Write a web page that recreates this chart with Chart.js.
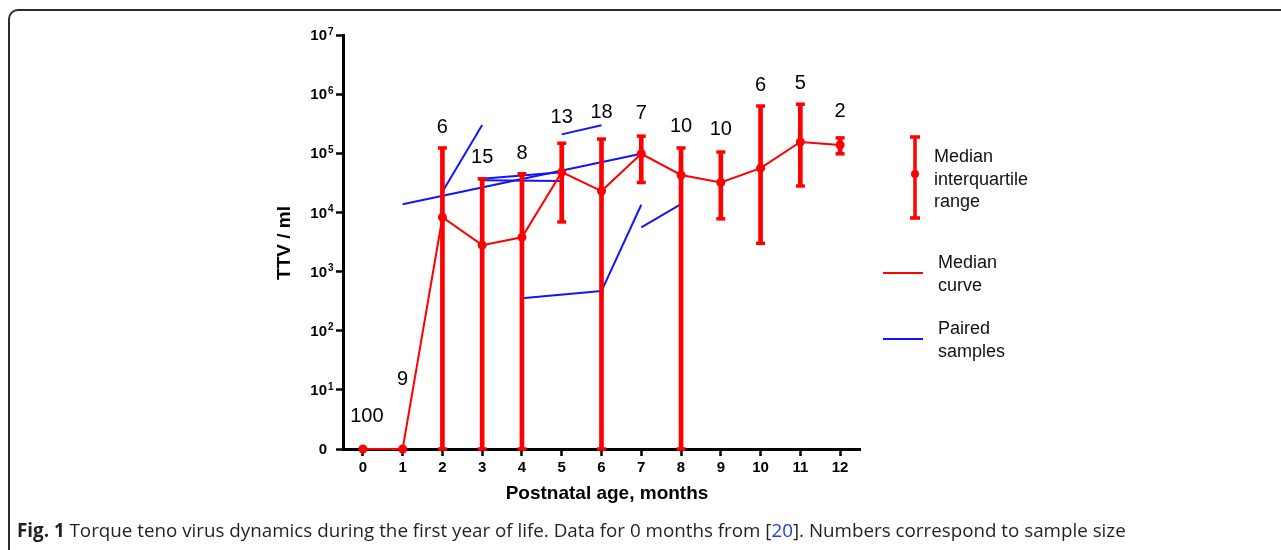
<!DOCTYPE html>
<html>
<head>
<meta charset="utf-8">
<script src="https://cdn.jsdelivr.net/npm/chart.js@4/dist/chart.umd.min.js"></script>
<style>
  html, body { margin: 0; padding: 0; background: #fff; }
  #wrap { position: relative; width: 1281px; height: 550px; overflow: hidden; }
  #frame { position: absolute; left: 8px; top: 9px; width: 1320px; height: 620px;
           border: 2px solid #2b2b2b; border-radius: 10px; box-sizing: border-box; }
  #ttv { position: absolute; left: 0; top: 0; }
  #caption { position: absolute; left: 17px; top: 517px; font-family: "Open Sans", sans-serif;
             font-size: 18.8px; color: #231f20; white-space: nowrap; }
  #caption b { font-weight: 700; }
  #caption .ref { color: #1f3fd8; }
</style>
</head>
<body>
<div id="wrap">
  <div id="frame"></div>
  <canvas id="ttv" width="1281" height="550"></canvas>
  <div id="caption"><b>Fig. 1</b> Torque teno virus dynamics during the first year of life. Data for 0 months from [<span class="ref">20</span>]. Numbers correspond to sample size</div>
</div>
<script>
// months of postnatal age
const months = [0, 1, 2, 3, 4, 5, 6, 7, 8, 9, 10, 11, 12];
// sample size per month
const sampleSize = [100, 9, 6, 15, 8, 13, 18, 7, 10, 10, 6, 5, 2];
// TTV copies / ml (0 = not detected)
const median = [0, 0, 8300, 2800, 3800, 48000, 23000, 98000, 43000, 32000, 56000, 155000, 138000];
const q1 =     [null, null, 0, 0, 0, 6900, 0, 32000, 0, 7800, 3000, 28000, 98000];
const q3 =     [null, null, 123000, 37000, 45000, 148000, 174000, 195000, 123000, 105000, 630000, 676000, 182000];
// paired samples: [month A, value A, month B, value B]
const paired = [
  [1, 13800, 7, 98000],
  [2, 22400, 3, 300000],
  [3, 37000, 5, 48000],
  [3, 35000, 5, 34000],
  [5, 209000, 6, 297000],
  [4, 355, 6, 468],
  [6, 468, 7, 13500],
  [7, 5600, 8, 13800]
];
// y axis decades (0 shown at the bottom)
const yExponents = [0, 1, 2, 3, 4, 5, 6, 7];

const RED = "rgb(255,0,0)";
const BLUE = "rgb(20,20,250)";
const FONT = "'Liberation Sans', Arial, sans-serif";

// zero is drawn on the axis floor
const toAxis = v => (v > 0 ? v : 1);

const barData = [];
const capData = [];
months.forEach((m, i) => {
  if (q3[i] === null) return;
  barData.push({ x: m, y: [toAxis(q1[i]), q3[i]] });
  capData.push({ x: m, y: toAxis(q1[i]) });
  capData.push({ x: m, y: q3[i] });
});

const pairedSets = paired.map(p => ({
  type: "line",
  data: [{ x: p[0], y: p[1] }, { x: p[2], y: p[3] }],
  borderColor: BLUE,
  borderWidth: 2,
  pointRadius: 0,
  order: 3,
  clip: false
}));

// label lift above top of each bar (px)
const labelLift = [33, 70, 20, 21, 20, 26, 27, 23, 21, 23, 21, 21, 26];

const decor = {
  id: "decor",
  afterDraw(chart) {
    const { ctx, scales: { x, y } } = chart;
    ctx.save();
    ctx.fillStyle = "#000";

    // y tick labels with superscripts
    yExponents.forEach(e => {
      const py = y.getPixelForValue(Math.pow(10, e));
      const rx = y.right - 16;
      ctx.font = "bold 15px " + FONT;
      ctx.textBaseline = "middle";
      ctx.textAlign = "right";
      if (e === 0) {
        ctx.fillText("0", rx, py + 1);
      } else {
        ctx.fillText("10", rx, py + 1);
        ctx.font = "bold 10px " + FONT;
        ctx.textAlign = "left";
        ctx.fillText(String(e), rx + 1, py - 3);
      }
    });

    // axis titles
    ctx.font = "bold 19px " + FONT;
    ctx.textAlign = "center";
    ctx.textBaseline = "middle";
    ctx.fillText("Postnatal age, months", 607, 494);
    ctx.save();
    ctx.translate(285, 243);
    ctx.rotate(-Math.PI / 2);
    ctx.fillText("TTV / ml", 0, 0);
    ctx.restore();

    // sample sizes
    ctx.font = "20px " + FONT;
    months.forEach((m, i) => {
      const top = q3[i] !== null ? q3[i] : toAxis(median[i]);
      const dx = i === 0 ? 4 : 0;
      ctx.fillText(String(sampleSize[i]), x.getPixelForValue(m) + dx, y.getPixelForValue(top) - labelLift[i]);
    });

    // legend
    ctx.strokeStyle = RED;
    ctx.fillStyle = RED;
    ctx.lineWidth = 3.5;
    ctx.beginPath();
    ctx.moveTo(915, 137); ctx.lineTo(915, 218);
    ctx.moveTo(910, 137); ctx.lineTo(920, 137);
    ctx.moveTo(910, 218); ctx.lineTo(920, 218);
    ctx.stroke();
    ctx.beginPath();
    ctx.arc(915, 174, 4, 0, Math.PI * 2);
    ctx.fill();

    ctx.lineWidth = 2;
    ctx.beginPath();
    ctx.moveTo(883, 273); ctx.lineTo(923, 273);
    ctx.stroke();
    ctx.strokeStyle = BLUE;
    ctx.beginPath();
    ctx.moveTo(883, 339); ctx.lineTo(923, 339);
    ctx.stroke();

    ctx.fillStyle = "#111";
    ctx.font = "18px " + FONT;
    ctx.textAlign = "left";
    [["Median", 157], ["interquartile", 180], ["range", 202]].forEach(t => ctx.fillText(t[0], 934, t[1]));
    [["Median", 263], ["curve", 286]].forEach(t => ctx.fillText(t[0], 938, t[1]));
    [["Paired", 329], ["samples", 352]].forEach(t => ctx.fillText(t[0], 938, t[1]));
    ctx.restore();
  }
};

new Chart(document.getElementById("ttv"), {
  type: "line",
  data: {
    datasets: [
      {
        type: "line",
        label: "Median curve",
        data: months.map((m, i) => ({ x: m, y: toAxis(median[i]) })),
        borderColor: RED,
        backgroundColor: RED,
        borderWidth: 2,
        pointRadius: 4.5,
        pointBorderWidth: 0,
        order: 0,
        clip: false
      },
      {
        type: "scatter",
        label: "caps",
        data: capData,
        pointStyle: "line",
        pointRadius: 4.5,
        borderColor: RED,
        borderWidth: 3.5,
        order: 1,
        clip: false
      },
      {
        type: "bar",
        label: "Median interquartile range",
        data: barData,
        backgroundColor: RED,
        barThickness: 4,
        order: 2
      },
      ...pairedSets
    ]
  },
  options: {
    responsive: false,
    animation: false,
    events: [],
    layout: { padding: { left: 0, right: 421, top: 35, bottom: 0 } },
    plugins: { legend: { display: false }, tooltip: { enabled: false } },
    scales: {
      x: {
        type: "linear",
        min: -0.5,
        max: 12.5,
        offset: false,
        afterFit: s => { s.height = 101; },
        afterBuildTicks: s => { s.ticks = months.map(m => ({ value: m })); },
        grid: { offset: false, drawOnChartArea: false, tickLength: 7, tickWidth: 2.5, tickColor: "#000" },
        border: { color: "#000", width: 3 },
        ticks: {
          autoSkip: false,
          maxRotation: 0,
          padding: 3,
          color: "#000",
          font: { family: FONT, weight: "bold", size: 15 }
        }
      },
      y: {
        type: "logarithmic",
        min: 1,
        max: 1e7,
        afterFit: s => { s.width = 343; },
        afterBuildTicks: s => { s.ticks = yExponents.map(e => ({ value: Math.pow(10, e) })); },
        grid: { drawOnChartArea: false, tickLength: 7, tickWidth: 2.5, tickColor: "#000" },
        border: { color: "#000", width: 3 },
        ticks: { display: false }
      }
    }
  },
  plugins: [decor]
});
</script>
</body>
</html>
